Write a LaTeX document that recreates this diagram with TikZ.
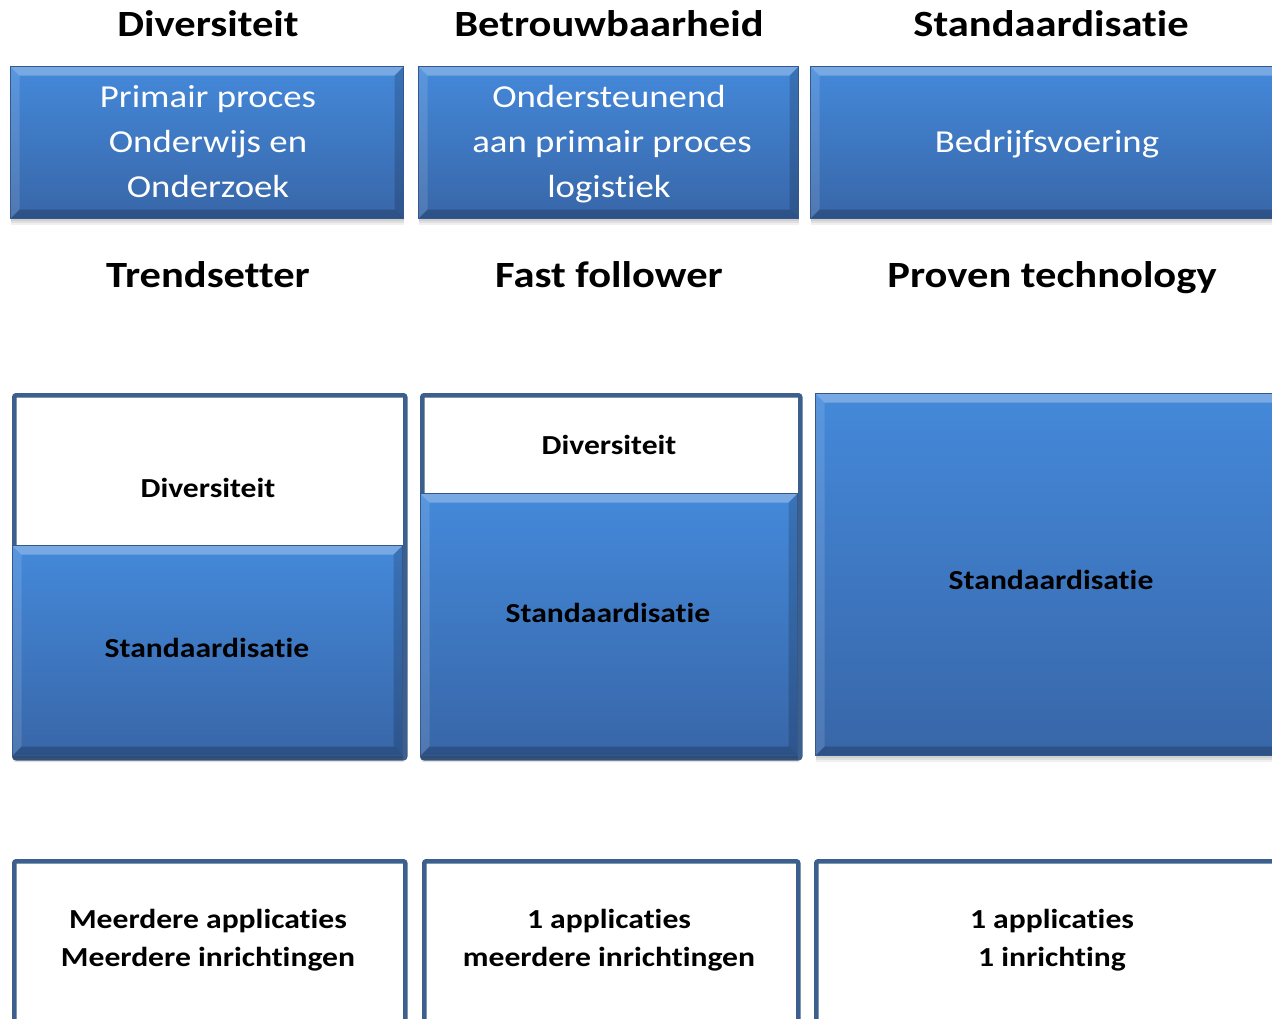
\documentclass[tikz,border=0pt]{standalone}
\usepackage{fontspec}
\setmainfont{Carlito}[Ligatures=NoCommon]
\definecolor{btop}{RGB}{68,137,218}
\definecolor{bbot}{RGB}{56,102,168}
\definecolor{bedge}{RGB}{52,88,140}
\definecolor{fedge}{RGB}{60,95,142}
\newcommand{\wideT}[1]{\scalebox{1.15}[1]{#1}}
\tikzset{
  bluebox/.style={rectangle, inner sep=0pt, anchor=north west,
    top color=btop, bottom color=bbot, draw=bedge, line width=1.2pt,
    preaction={fill=black, opacity=0.07, transform canvas={yshift=-2pt}},
    preaction={fill=black, opacity=0.07, transform canvas={yshift=-4pt}},
    preaction={fill=black, opacity=0.06, transform canvas={yshift=-6pt}},
    path picture={
      \fill[white, opacity=0.28] (path picture bounding box.north west) -- (path picture bounding box.north east)
        -- ([xshift=-9pt,yshift=-9pt]path picture bounding box.north east) -- ([xshift=9pt,yshift=-9pt]path picture bounding box.north west) -- cycle;
      \fill[white, opacity=0.12] (path picture bounding box.north west) -- ([xshift=9pt,yshift=-9pt]path picture bounding box.north west)
        -- ([xshift=9pt,yshift=9pt]path picture bounding box.south west) -- (path picture bounding box.south west) -- cycle;
      \fill[black, opacity=0.16] (path picture bounding box.north east) -- ([xshift=-9pt,yshift=-9pt]path picture bounding box.north east)
        -- ([xshift=-9pt,yshift=9pt]path picture bounding box.south east) -- (path picture bounding box.south east) -- cycle;
      \fill[black, opacity=0.2] (path picture bounding box.south west) -- ([xshift=9pt,yshift=9pt]path picture bounding box.south west)
        -- ([xshift=-9pt,yshift=9pt]path picture bounding box.south east) -- (path picture bounding box.south east) -- cycle;
    }},
  framebox/.style={rectangle, inner sep=0pt, anchor=north west, draw=fedge, line width=4.5pt, rounded corners=2pt, fill=white},
  head/.style={font=\bfseries\fontsize{37}{40}\selectfont, inner sep=0pt, anchor=base},
  wtext/.style={text=white, font=\fontsize{32}{40}\selectfont, inner sep=0pt, anchor=base},
  label/.style={font=\bfseries\fontsize{27.5}{33}\selectfont, inner sep=0pt, anchor=base},
}
\begin{document}
\begin{tikzpicture}[x=1pt, y=-1pt]
\clip (0,0) rectangle (1272,1018);
\fill[white] (0,0) rectangle (1272,1018);
% headings
\node[head] (h1) at (208,36) {\wideT{Diversiteit}};
\node[head] (h2) at (609,36) {\wideT{Betrouwbaarheid}};
\node[head] (h3) at (1051,36) {\wideT{Standaardisatie}};
% top boxes
\node[bluebox, minimum width=393pt, minimum height=152pt] (t1) at (10,66) {};
\node[wtext] (t1a) at (208,107) {\wideT{Primair proces}};
\node[wtext] (t1b) at (208,152) {\wideT{Onderwijs en}};
\node[wtext] (t1c) at (208,197) {\wideT{Onderzoek}};
\node[bluebox, minimum width=380pt, minimum height=152pt] (t2) at (418,66) {};
\node[wtext] (t2a) at (609,107) {\wideT{Ondersteunend}};
\node[wtext] (t2b) at (612,152) {\wideT{aan primair proces}};
\node[wtext] (t2c) at (609,197) {\wideT{logistiek}};
\node[bluebox, minimum width=480pt, minimum height=152pt] (t3) at (810,66) {};
\node[wtext] (t3a) at (1047,152) {\wideT{Bedrijfsvoering}};
% second headings
\node[head] (s1) at (208,287) {\wideT{Trendsetter}};
\node[head] (s2) at (609,287) {\wideT{Fast follower}};
\node[head] (s3) at (1052,287) {\wideT{Proven technology}};
% middle row
\node[framebox, minimum width=391pt, minimum height=363pt,
  preaction={fill=black, opacity=0.06, transform canvas={yshift=-4pt}}] (ma) at (12,393) {};
\node[bluebox, minimum width=390pt, minimum height=210pt] (mab) at (12,545) {};
\node[label] (mad) at (208,497) {\wideT{Diversiteit}};
\node[label] (mas) at (207,657) {\wideT{Standaardisatie}};
\node[framebox, minimum width=378pt, minimum height=363pt,
  preaction={fill=black, opacity=0.06, transform canvas={yshift=-4pt}}] (mb) at (420,393) {};
\node[bluebox, minimum width=377pt, minimum height=262pt] (mbb) at (420,493) {};
\node[label] (mbd) at (609,454) {\wideT{Diversiteit}};
\node[label] (mbs) at (608,622) {\wideT{Standaardisatie}};
\node[bluebox, minimum width=475pt, minimum height=362pt] (mc) at (815,393) {};
\node[label] (mcs) at (1051,589) {\wideT{Standaardisatie}};
% bottom row
\node[framebox, minimum width=391pt, minimum height=200pt] (ba) at (12,859) {};
\node[label] (bala) at (208,928) {\wideT{Meerdere applicaties}};
\node[label] (balb) at (208,966) {\wideT{Meerdere inrichtingen}};
\node[framebox, minimum width=374pt, minimum height=200pt] (bb) at (422,859) {};
\node[label] (bbla) at (609,928) {\wideT{1 applicaties}};
\node[label] (bblb) at (609,966) {\wideT{meerdere inrichtingen}};
\node[framebox, minimum width=480pt, minimum height=200pt] (bc) at (814,859) {};
\node[label] (bcla) at (1052,928) {\wideT{1 applicaties}};
\node[label] (bclb) at (1052,966) {\wideT{1 inrichting}};
\end{tikzpicture}
\end{document}
